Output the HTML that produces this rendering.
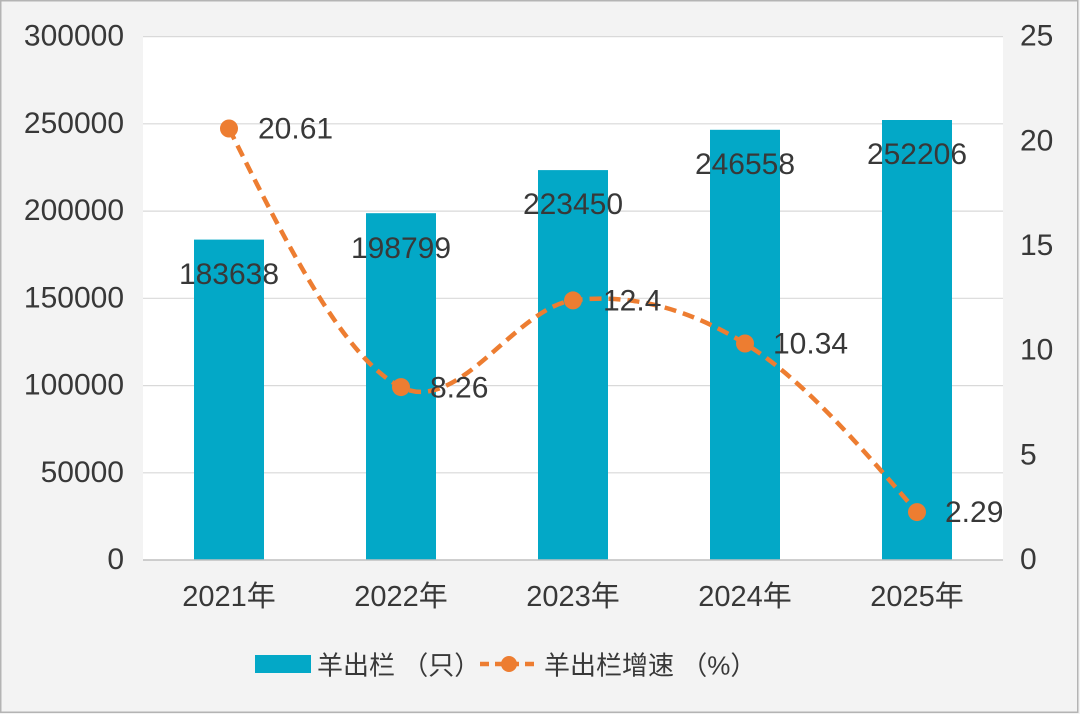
<!DOCTYPE html>
<html>
<head>
<meta charset="utf-8">
<style>
  html, body { margin: 0; padding: 0; background: #f3f3f3; }
  svg { display: block; }
  text { font-family: "Liberation Sans", "Noto Sans CJK SC", sans-serif; fill: #383838; }
</style>
</head>
<body>
<svg width="1080" height="714" viewBox="0 0 1080 714" xmlns="http://www.w3.org/2000/svg">
  <!-- background -->
  <rect x="0" y="0" width="1080" height="714" fill="#f3f3f3"/>
  <rect x="0.75" y="0.75" width="1077" height="711.5" fill="none" stroke="#b4b4b4" stroke-width="1.5"/>
  <!-- plot area -->
  <rect x="143" y="36.6" width="860" height="523.4" fill="#ffffff"/>

  <!-- gridlines -->
  <g stroke="#d9d9d9" stroke-width="1.2">
    <line x1="143" y1="36.6" x2="1003" y2="36.6"/>
    <line x1="143" y1="123.8" x2="1003" y2="123.8"/>
    <line x1="143" y1="211.1" x2="1003" y2="211.1"/>
    <line x1="143" y1="298.3" x2="1003" y2="298.3"/>
    <line x1="143" y1="385.6" x2="1003" y2="385.6"/>
    <line x1="143" y1="472.8" x2="1003" y2="472.8"/>
  </g>

  <!-- bars -->
  <g fill="#03a8c7">
    <rect x="194" y="239.6" width="70" height="320.4"/>
    <rect x="366" y="213.2" width="70" height="346.8"/>
    <rect x="538" y="170.1" width="70" height="389.9"/>
    <rect x="710" y="129.8" width="70" height="430.2"/>
    <rect x="882" y="120.0" width="70" height="440.0"/>
  </g>

  <!-- x axis line -->
  <line x1="143" y1="560" x2="1003" y2="560" stroke="#bfbfbf" stroke-width="1.5"/>

  <!-- left axis labels -->
  <g font-size="30" text-anchor="end">
    <text x="124" y="45.6">300000</text>
    <text x="124" y="132.8">250000</text>
    <text x="124" y="220.1">200000</text>
    <text x="124" y="307.3">150000</text>
    <text x="124" y="394.6">100000</text>
    <text x="124" y="481.8">50000</text>
    <text x="124" y="569">0</text>
  </g>

  <!-- right axis labels -->
  <g font-size="30" text-anchor="start">
    <text x="1020" y="45.6">25</text>
    <text x="1020" y="150.3">20</text>
    <text x="1020" y="255">15</text>
    <text x="1020" y="359.6">10</text>
    <text x="1020" y="464.3">5</text>
    <text x="1020" y="569">0</text>
  </g>

  <!-- x axis labels -->
  <g font-size="29" text-anchor="middle">
    <text x="229" y="606">2021年</text>
    <text x="401" y="606">2022年</text>
    <text x="573" y="606">2023年</text>
    <text x="745" y="606">2024年</text>
    <text x="917" y="606">2025年</text>
  </g>

  <!-- smooth dashed line -->
  <path d="M229,128.5 C286.33,243.48 343.67,358.45 401,387.1 C458.33,415.75 515.67,307.67 573,300.4 C630.33,293.13 687.67,308.22 745,343.5 C802.33,378.78 859.67,445.44 917,512.1"
        fill="none" stroke="#ed7d31" stroke-width="4.5" stroke-dasharray="12 7"/>

  <!-- markers -->
  <g fill="#ed7d31">
    <circle cx="229" cy="128.5" r="9"/>
    <circle cx="401" cy="387.1" r="9"/>
    <circle cx="573" cy="300.4" r="9"/>
    <circle cx="745" cy="343.5" r="9"/>
    <circle cx="917" cy="512.1" r="9"/>
  </g>

  <!-- bar data labels -->
  <g font-size="30" text-anchor="middle">
    <text x="229" y="284">183638</text>
    <text x="401" y="258">198799</text>
    <text x="573" y="214">223450</text>
    <text x="745" y="174">246558</text>
    <text x="917" y="164">252206</text>
  </g>

  <!-- line data labels -->
  <g font-size="30" text-anchor="start">
    <text x="258" y="138.5">20.61</text>
    <text x="430" y="397.5">8.26</text>
    <text x="603" y="310.5">12.4</text>
    <text x="773" y="353.5">10.34</text>
    <text x="945" y="522">2.29</text>
  </g>

  <!-- legend -->
  <rect x="255" y="655" width="56" height="18" fill="#03a8c7"/>
  <text x="317" y="674.5" font-size="26">羊出栏 （只）</text>
  <line x1="480" y1="664" x2="538" y2="664" stroke="#ed7d31" stroke-width="4.5" stroke-dasharray="9 6"/>
  <circle cx="509" cy="664" r="8" fill="#ed7d31"/>
  <text x="544" y="674.5" font-size="26">羊出栏增速 （%）</text>
</svg>
</body>
</html>
